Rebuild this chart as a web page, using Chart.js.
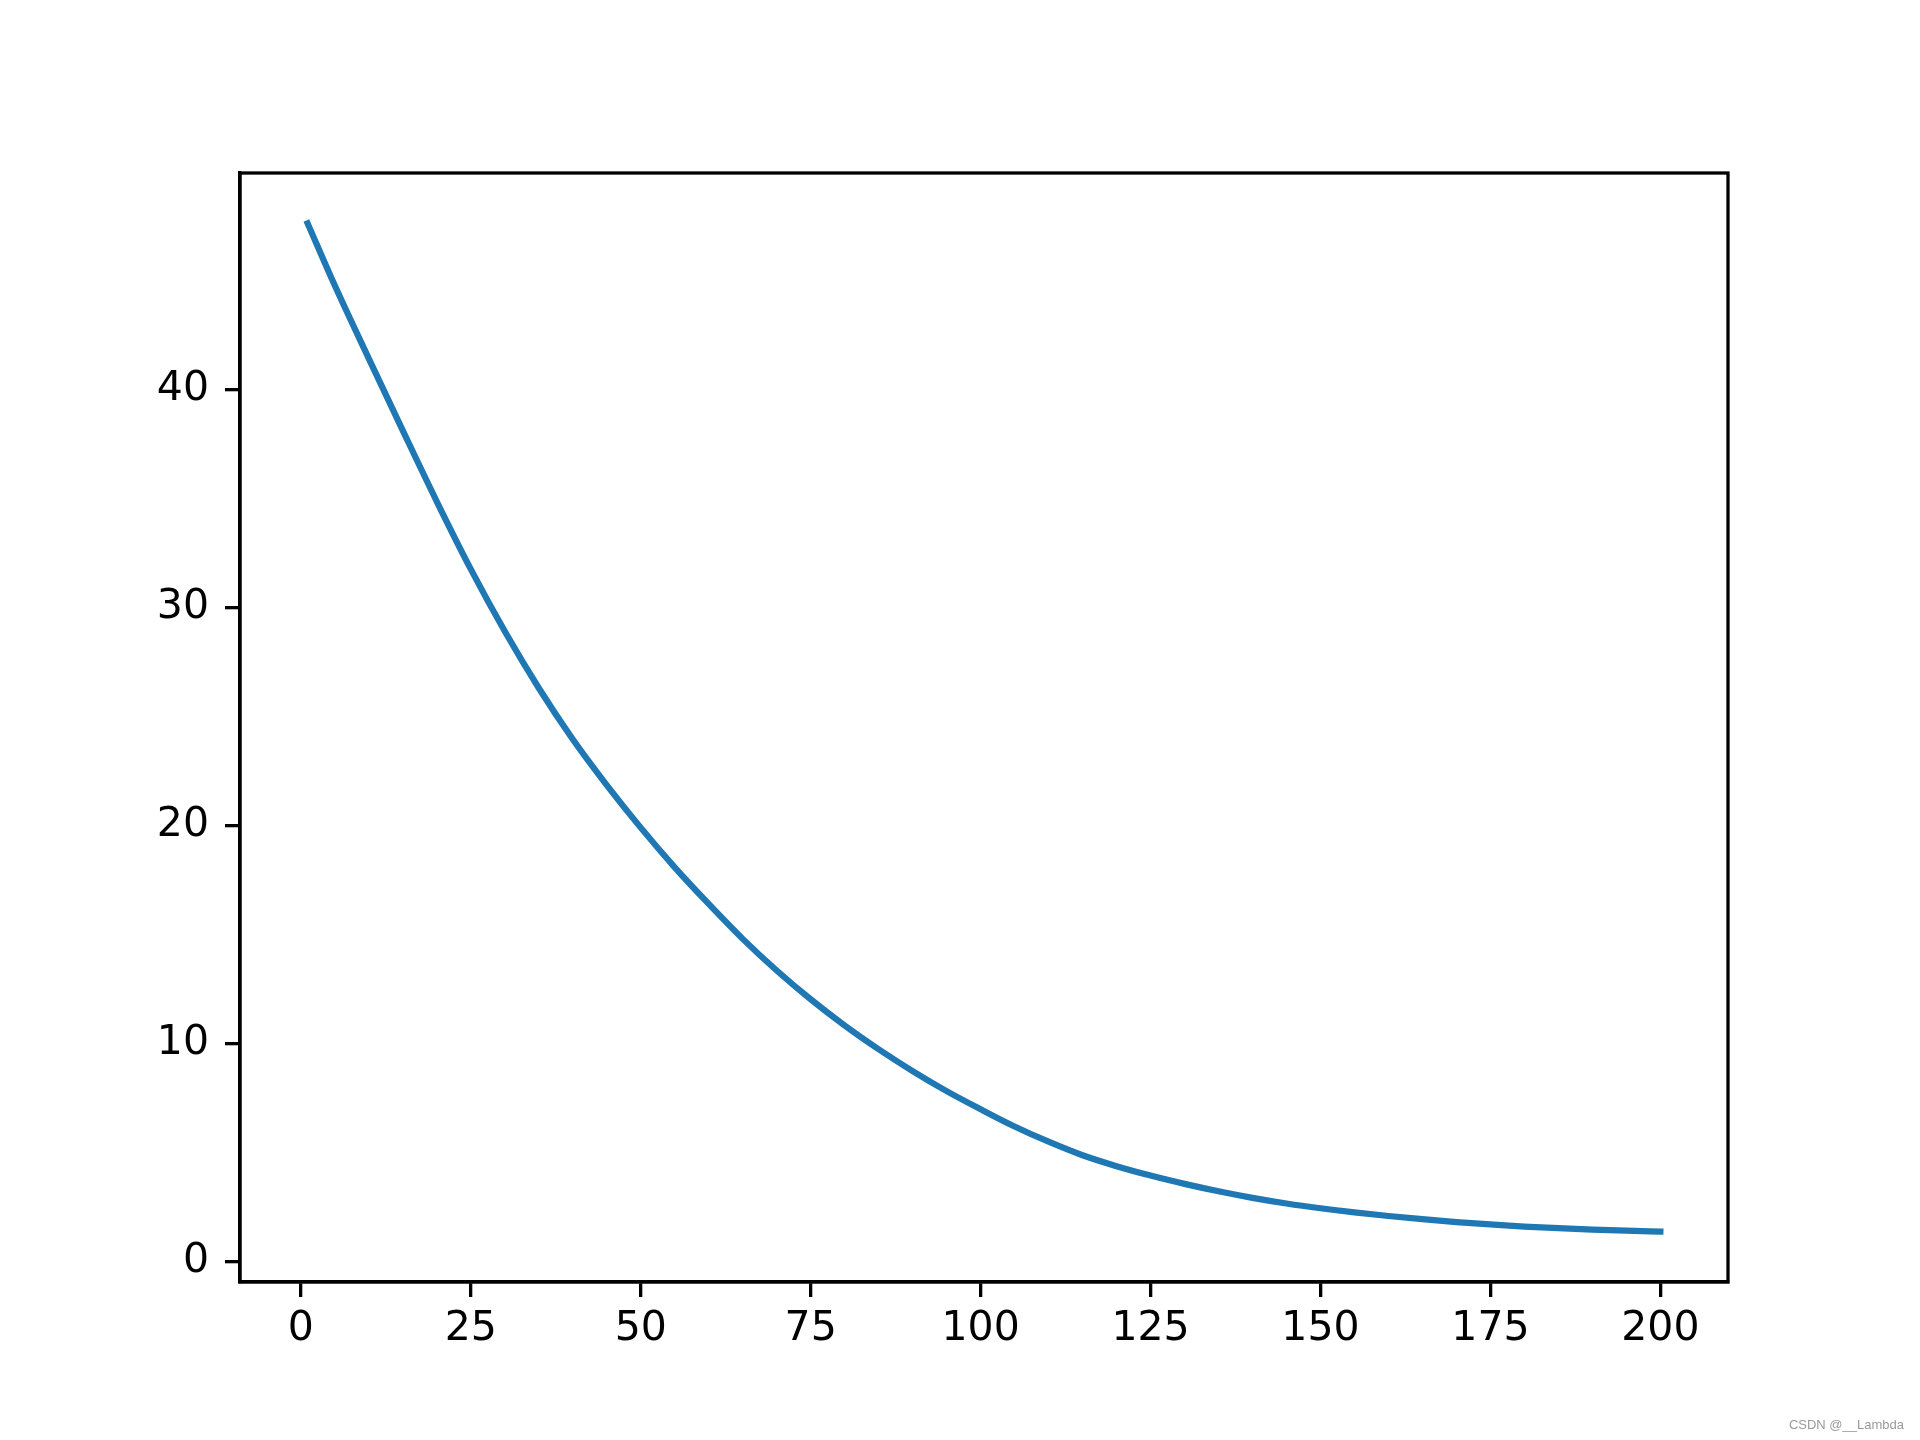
<!DOCTYPE html>
<html>
<head>
<meta charset="utf-8">
<script src="https://cdn.jsdelivr.net/npm/chart.js@4/dist/chart.umd.min.js"></script>
<style>
  html, body { margin: 0; padding: 0; background: #fff; }
  #wrap { position: relative; width: 1920px; height: 1440px; }
  #mark { position: absolute; right: 16px; bottom: 8px; font: 13px "Liberation Sans", Arial, sans-serif; color: #9a9a9a; }
</style>
</head>
<body>
<div id="wrap">
  <canvas id="curveChart" width="1920" height="1440"></canvas>
  <div id="mark">CSDN @__Lambda</div>
</div>
<script>
// values
const xs = [1, 5, 10, 15, 20, 25, 30, 35, 40, 45, 50, 55, 60, 65, 70, 75, 80, 85, 90, 95, 100,
            105, 110, 115, 120, 125, 130, 135, 140, 145, 150, 155, 160, 165, 170, 175, 180, 185, 190, 195, 200];
const ys = [47.6, 44.75, 41.4, 38.1, 34.85, 31.75, 28.9, 26.3, 23.95, 21.85, 19.9, 18.08, 16.4, 14.8, 13.35, 12.03, 10.83, 9.74, 8.74, 7.82, 6.99,
            6.2, 5.5, 4.88, 4.38, 3.95, 3.57, 3.23, 2.93, 2.67, 2.45, 2.26, 2.095, 1.95, 1.82, 1.71, 1.61, 1.535, 1.475, 1.425, 1.38];
const xTicks = [0, 25, 50, 75, 100, 125, 150, 175, 200];
const yTicks = [0, 10, 20, 30, 40];

const lw = 3.3; // spine / tick width

// frame around the plot (top and right spines)
const frame = {
    id: "frame",
    afterDraw(chart) {
        const a = chart.chartArea, ctx = chart.ctx;
        ctx.save();
        ctx.strokeStyle = "#000";
        ctx.lineWidth = lw;
        ctx.strokeRect(a.left, a.top, a.right - a.left, a.bottom - a.top);
        ctx.restore();
    }
};

new Chart(document.getElementById("curveChart"), {
    type: "line",
    data: {
        datasets: [{
            data: xs.map((x, i) => ({ x: x, y: ys[i] })),
            borderColor: "#1f77b4",
            borderWidth: 6.25,
            borderCapStyle: "square",
            pointRadius: 0,
            cubicInterpolationMode: "monotone",
            fill: false
        }]
    },
    options: {
        responsive: false,
        animation: false,
        layout: { padding: { left: 0, top: 173, right: 192, bottom: 0 } },
        plugins: { legend: { display: false }, tooltip: { enabled: false } },
        scales: {
            x: {
                type: "linear",
                min: -8.95,
                max: 209.95,
                afterBuildTicks: s => { s.ticks = xTicks.map(v => ({ value: v })); },
                afterFit: s => { s.height = 158; },
                grid: { drawOnChartArea: false, color: "#000", lineWidth: lw, tickLength: 15 },
                border: { display: true, color: "#000", width: lw },
                ticks: { color: "#000", font: { family: "DejaVu Sans", size: 41 }, padding: 8, maxRotation: 0, autoSkip: false }
            },
            y: {
                min: -0.93,
                max: 49.91,
                afterBuildTicks: s => { s.ticks = yTicks.map(v => ({ value: v })); },
                afterFit: s => { s.width = 240; },
                grid: { drawOnChartArea: false, color: "#000", lineWidth: lw, tickLength: 15 },
                border: { display: true, color: "#000", width: lw },
                ticks: { color: "#000", font: { family: "DejaVu Sans", size: 41 }, padding: 16, autoSkip: false }
            }
        }
    },
    plugins: [frame]
});
</script>
</body>
</html>
